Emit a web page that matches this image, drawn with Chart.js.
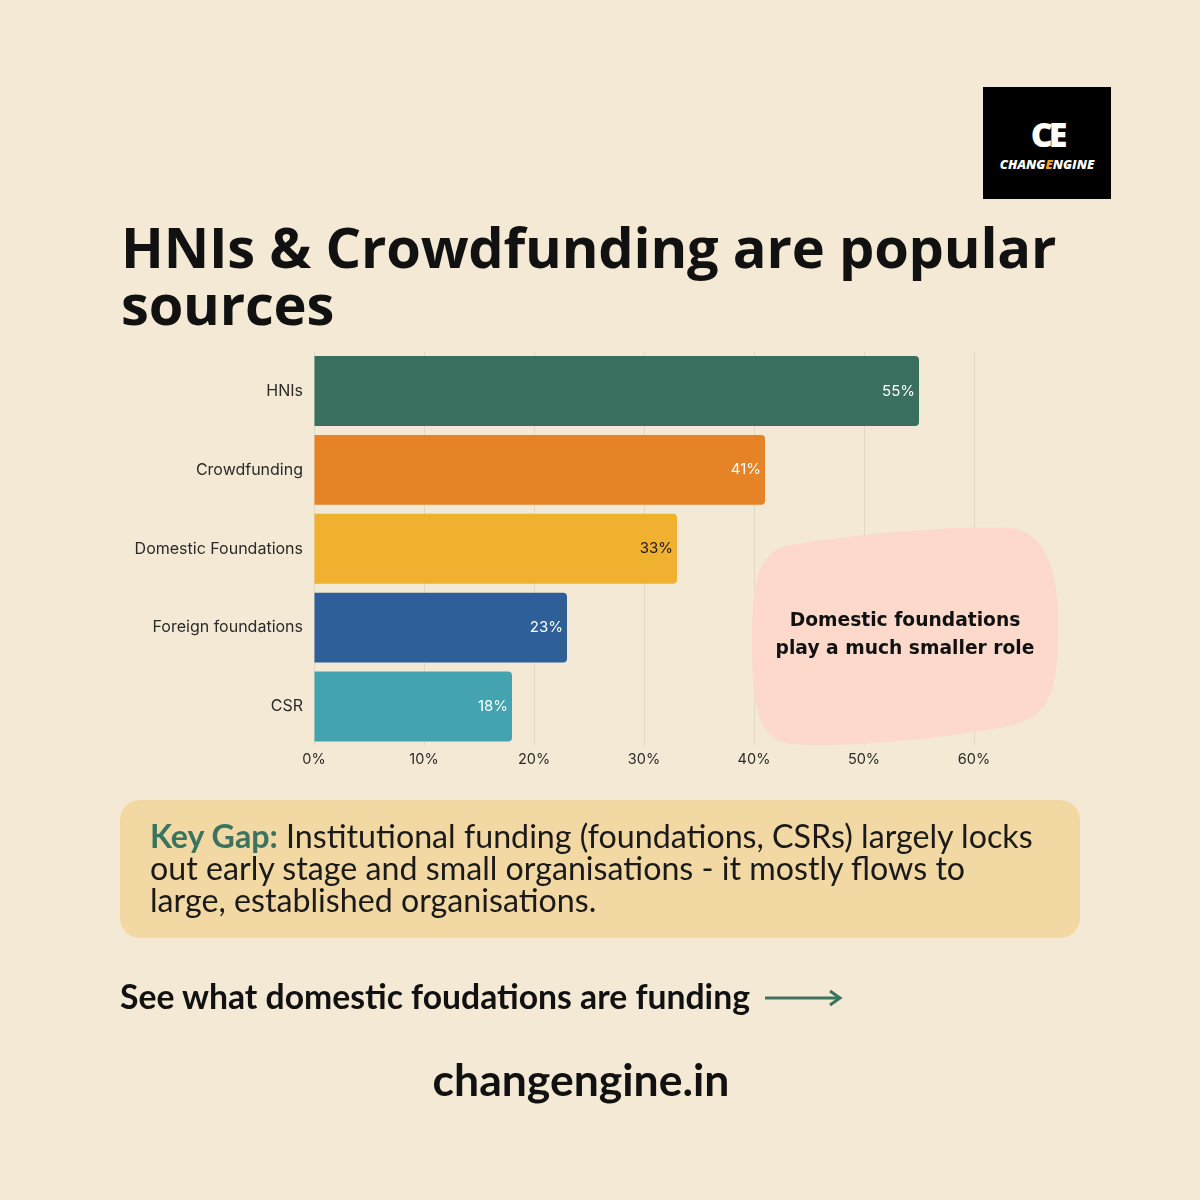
<!DOCTYPE html>
<html>
<head>
<meta charset="utf-8">
<script src="https://cdn.jsdelivr.net/npm/chart.js@4.4.1/dist/chart.umd.min.js"></script>
<style>
    html, body {
        margin: 0;
        padding: 0;
    }

    body {
        width: 1200px;
        height: 1200px;
        background: #f4e9d4;
        position: relative;
        overflow: hidden;
        font-family: "Open Sans", sans-serif;
        color: #111;
    }

    .logo {
        position: absolute;
        left: 983px;
        top: 87px;
        width: 128px;
        height: 112px;
        background: #000;
        color: #fff;
        text-align: center;
    }

    .logo .mark {
        position: absolute;
        left: 0;
        right: 0;
        top: 30px;
        font: 800 34px "Open Sans", sans-serif;
        letter-spacing: -4px;
        line-height: 34px;
    }

    .logo .name {
        position: absolute;
        left: 0;
        right: 0;
        top: 68px;
        font: italic 800 13px "Open Sans", sans-serif;
    }

    .orange {
        color: #f2a51e;
    }

    h1 {
        position: absolute;
        left: 121px;
        top: 218px;
        margin: 0;
        width: 1000px;
        font: 700 56px "Open Sans", sans-serif;
        line-height: 57px;
        letter-spacing: -0.2px;
    }

    .chart-box {
        position: absolute;
        left: 120px;
        top: 331px;
        width: 900px;
        height: 449px;
    }

    .blob {
        position: absolute;
        left: 0;
        top: 0;
    }

    .note {
        position: absolute;
        left: 752px;
        top: 606px;
        width: 306px;
        text-align: center;
        font: 700 18.7px "DejaVu Sans", sans-serif;
        line-height: 28px;
        color: #111;
    }

    .gap {
        position: absolute;
        left: 120px;
        top: 800px;
        width: 960px;
        height: 138px;
        border-radius: 20px;
        background: #f2d8a3;
    }

    .gap p {
        margin: 0;
        position: absolute;
        left: 30px;
        top: 20px;
        font: 400 32.2px "Lato", sans-serif;
        line-height: 32px;
        color: #1a1a1a;
        white-space: nowrap;
    }

    .gap b {
        color: #3a7460;
    }

    .cta {
        position: absolute;
        left: 120px;
        top: 976px;
        font: 700 33.7px "Lato", sans-serif;
        color: #111;
        white-space: nowrap;
    }

    .site {
        position: absolute;
        left: 0;
        width: 1162px;
        top: 1052px;
        text-align: center;
        font: 700 44.5px "Lato", sans-serif;
        color: #111;
    }
</style>
</head>
<body>
<div class="logo">
    <div class="mark">CE</div>
    <div class="name">CHANG<span class="orange">E</span>NGINE</div>
</div>

<h1>HNIs &amp; Crowdfunding are popular sources</h1>

<div class="chart-box">
    <canvas id="sources-chart" width="900" height="449"></canvas>
</div>

<svg class="blob" width="1200" height="1200">
    <path d="M 790 545 C 850 535, 950 525, 1010 528 C 1050 532, 1060 580, 1058 640 C 1056 700, 1048 718, 1000 728 C 930 740, 840 748, 790 744 C 756 740, 752 700, 752 640 C 752 585, 756 552, 790 545 Z" fill="#fcd9ca"/>
    <line x1="765" y1="998" x2="838" y2="998" stroke="#3a7460" stroke-width="3"/>
    <path d="M 830 991 L 840 998 L 830 1005" fill="none" stroke="#3a7460" stroke-width="3"/>
</svg>

<div class="note">Domestic foundations<br>play a much smaller role</div>

<div class="gap">
    <p><b>Key Gap:</b> Institutional funding (foundations, CSRs) largely locks<br>out early stage and small organisations - it mostly flows to<br>large, established organisations.</p>
</div>

<div class="cta">See what domestic foudations are funding</div>

<div class="site">changengine.in</div>

<script>
const categories = [
    "HNIs",
    "Crowdfunding",
    "Domestic Foundations",
    "Foreign foundations",
    "CSR"
];
const shares = [55, 41, 33, 23, 18];
const barColors = ["#386f5e", "#e58326", "#f0b030", "#2e5f99", "#44a3b1"];
const valueLabelColors = ["#ffffff", "#ffffff", "#1a1a1a", "#ffffff", "#ffffff"];
const tickValues = [0, 10, 20, 30, 40, 50, 60];

const chartFont = "Inter, 'Noto Sans', sans-serif";

const valueLabels = {
    id: "valueLabels",
    afterDatasetsDraw(chart) {
        const { ctx } = chart;
        const meta = chart.getDatasetMeta(0);

        ctx.save();
        ctx.font = `400 15px ${chartFont}`;
        ctx.textAlign = "right";
        ctx.textBaseline = "middle";

        meta.data.forEach((bar, index) => {
            ctx.fillStyle = valueLabelColors[index];
            ctx.fillText(`${shares[index]}%`, bar.x - 4, bar.y);
        });

        ctx.restore();
    }
};

new Chart(document.getElementById("sources-chart"), {
    type: "bar",
    data: {
        labels: categories,
        datasets: [
            {
                data: shares,
                backgroundColor: barColors,
                borderRadius: 4,
                borderSkipped: "start",
                barPercentage: 0.886,
                categoryPercentage: 1
            }
        ]
    },
    options: {
        indexAxis: "y",
        responsive: false,
        animation: false,
        layout: {
            padding: { top: 2, right: 46, bottom: 0, left: 0 }
        },
        plugins: {
            legend: { display: false },
            tooltip: { enabled: false }
        },
        scales: {
            x: {
                min: 0,
                max: 60,
                afterBuildTicks(axis) {
                    axis.ticks = tickValues.map(value => ({ value }));
                },
                afterFit(axis) {
                    axis.height = 34;
                },
                grid: {
                    color: "#e2d8c3",
                    lineWidth: 1,
                    drawTicks: false
                },
                border: { display: false },
                ticks: {
                    padding: 5,
                    color: "#2a2a2a",
                    font: { family: chartFont, size: 14.5 },
                    callback(value) {
                        return `${value}%`;
                    }
                }
            },
            y: {
                afterFit(axis) {
                    axis.width = 194;
                },
                grid: { display: false, drawTicks: false },
                border: { display: false },
                ticks: {
                    padding: 11,
                    color: "#2a2a2a",
                    font: { family: chartFont, size: 16 }
                }
            }
        }
    },
    plugins: [valueLabels]
});
</script>
</body>
</html>
